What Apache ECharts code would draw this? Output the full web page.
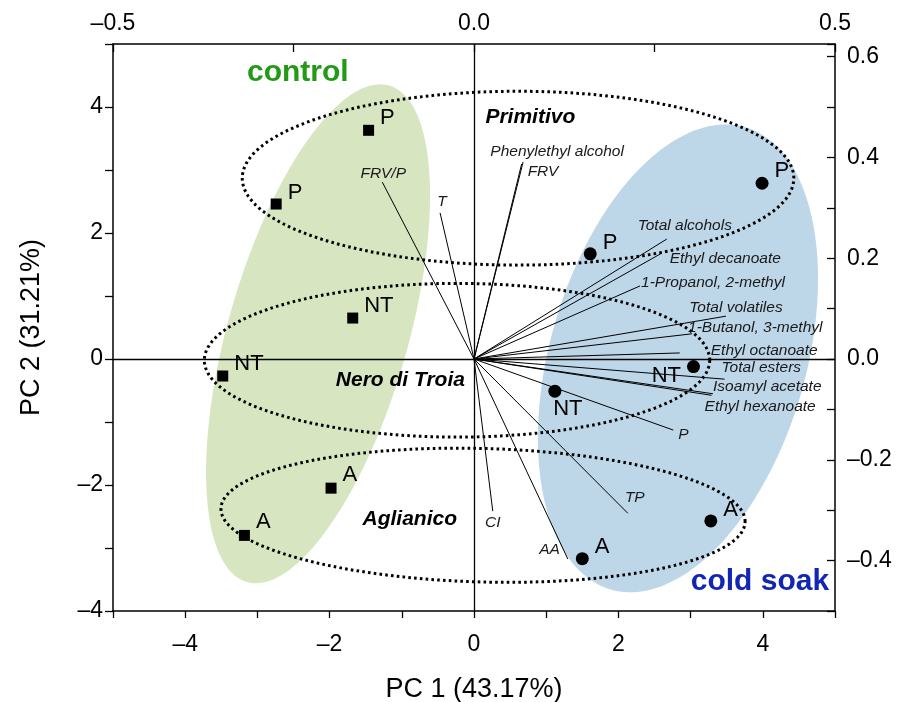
<!DOCTYPE html>
<html><head><meta charset="utf-8">
<script src="https://cdn.jsdelivr.net/npm/echarts@6/dist/echarts.min.js"></script>
<style>html,body{margin:0;padding:0;background:#fff}#c{width:898px;height:702px}</style>
</head><body><div id="c"></div>
<script>
const FONT = "'Liberation Sans', Arial, sans-serif";

// ---- Scores (PC1, PC2) : bottom / left axes ----
const scoreLabels = ['P', 'P', 'NT', 'NT', 'A', 'A'];
const controlPC1 = [-1.46, -2.74, -1.68, -3.48, -1.98, -3.18];
const controlPC2 = [3.63, 2.46, 0.65, -0.27, -2.05, -2.80];
const coldPC1 = [3.99, 1.61, 3.04, 1.12, 3.28, 1.50];
const coldPC2 = [2.79, 1.67, -0.12, -0.51, -2.57, -3.17];

// ---- Loadings : top / right axes ----
const loadingNames = ['FRV/P', 'T', 'Phenylethyl alcohol', 'FRV', 'Total alcohols', 'Ethyl decanoate',
  '1-Propanol, 2-methyl', 'Total volatiles', '1-Butanol, 3-methyl', 'Ethyl octanoate', 'Total esters',
  'Isoamyl acetate', 'Ethyl hexanoate', 'P', 'TP', 'CI', 'AA'];
const loadingPC1 = [-0.127, -0.047, 0.068, 0.066, 0.267, 0.260, 0.230, 0.349, 0.302, 0.285, 0.347, 0.331, 0.329, 0.276, 0.213, 0.026, 0.130];
const loadingPC2 = [0.351, 0.290, 0.391, 0.387, 0.238, 0.210, 0.145, 0.085, 0.050, 0.012, -0.040, -0.069, -0.072, -0.141, -0.306, -0.302, -0.397];

// ---- Confidence ellipses (PC units): centre + conjugate semi-axes ----
const groupNames = ['control', 'cold soak'];
const groupCenter = [[-2.16, 0.40], [2.825, 0.01]];
const groupAxisU = [[0.985, 3.94], [0.931, 3.67]];
const groupAxisV = [[1.198, -0.394], [1.702, -0.567]];
const cultivarNames = ['Primitivo', 'Nero di Troia', 'Aglianico'];
const cultivarCenter = [[0.61, 2.87], [-0.235, -0.02], [0.125, -2.48]];
const cultivarAxisU = [[3.82, 0], [3.50, 0], [3.63, -0.10]];
const cultivarAxisV = [[0, 1.38], [0, 1.22], [0, 1.06]];

// ---- Annotation anchors (PC units) ----
const groupLabelAt = [[-2.44, 4.54], [3.96, -3.54]];
const cultivarLabelAt = [[0.78, 3.84], [-1.02, -0.33], [-0.89, -2.54]];

// ---- Styles ----
const groupFill = ['#d7e5c0', '#bdd7e9'];
const groupTextColor = ['#229a16', '#1226b4'];
const loadingLabelPlace = [
  ['center', 1, -8], ['center', 2, -11], ['center', 34, -10], ['left', 6, 8], ['center', 18, -13],
  ['left', 8, 6], ['left', 1, -3], ['center', 10, -8], ['left', -4, -6], ['left', 31, -2],
  ['left', -3, -11], ['left', 0, -7], ['left', -7, 11], ['left', 5, 5], ['center', 7, -16],
  ['center', 0, 11], ['right', -8, -9]];
const controlLabelPlace = [['right', 0, -12], ['right', 0, -11], ['right', 0, -12], ['right', 0, -12], ['right', 0, -13], ['right', 0, -13]];
const coldLabelPlace = [['right', 0, -12], ['right', 0, -11], ['left', 0, 9], ['bottom', 13, 0], ['right', 0, -11], ['right', 0, -12]];

const dash = '\u2013';
function fmt(v, d) { const s = Math.abs(v).toFixed(d); return v < -1e-9 ? dash + s : s; }

function ellipsePts(api, c, u, v) {
  const pts = [];
  for (let k = 0; k <= 180; k++) {
    const t = 2 * Math.PI * k / 180;
    pts.push(api.coord([c[0] + Math.cos(t) * u[0] + Math.sin(t) * v[0],
                        c[1] + Math.cos(t) * u[1] + Math.sin(t) * v[1]]));
  }
  return pts;
}

function scoreData(xs, ys, place) {
  return xs.map((x, i) => ({
    value: [x, ys[i]], name: scoreLabels[i],
    label: { position: place[i][0], offset: [place[i][1], place[i][2]], distance: place[i][0] === 'bottom' ? 0 : 6 }
  }));
}

const axisLineStyle = { color: '#000', width: 1.5 };
const tickStyle = { color: '#000', width: 1.3 };
const labelBase = { color: '#000', fontSize: 23, fontFamily: FONT };
const scoreLabel = { show: true, formatter: p => p.name, color: '#000', opacity: 1, fontSize: 22, fontFamily: FONT };

const option = {
  animation: false,
  backgroundColor: '#fff',
  grid: { left: 113, right: 63, top: 44, bottom: 91, containLabel: false, outerBoundsMode: 'none' },
  xAxis: [
    { type: 'value', position: 'bottom', min: -5, max: 5, interval: 1,
      axisLine: { onZero: false, lineStyle: axisLineStyle },
      axisTick: { length: 7, lineStyle: tickStyle },
      axisLabel: Object.assign({ margin: 22, formatter: v => (Math.round(v) % 2 === 0 && Math.abs(v) < 5 ? fmt(v, 0) : '') }, labelBase),
      splitLine: { show: false },
      name: 'PC 1 (43.17%)', nameLocation: 'middle', nameGap: 65,
      nameTextStyle: { fontSize: 27, color: '#000', fontFamily: FONT } },
    { type: 'value', position: 'top', min: -0.5, max: 0.5, interval: 0.25,
      axisLine: { onZero: false, lineStyle: axisLineStyle },
      axisTick: { inside: true, length: 8, lineStyle: tickStyle },
      axisLabel: Object.assign({ margin: 9, showMinLabel: true, showMaxLabel: true,
        formatter: v => (Math.abs(v * 2 - Math.round(v * 2)) < 1e-6 ? fmt(v, 1) : '') }, labelBase),
      splitLine: { show: false } }
  ],
  yAxis: [
    { type: 'value', position: 'left', min: -4, max: 5, interval: 1,
      axisLine: { onZero: false, lineStyle: axisLineStyle },
      axisTick: { length: 8, lineStyle: tickStyle },
      axisLabel: Object.assign({ margin: 10, formatter: v => (Math.round(v) % 2 === 0 && v < 5 ? fmt(v, 0) : '') }, labelBase),
      splitLine: { show: false },
      name: 'PC 2 (31.21%)', nameLocation: 'middle', nameGap: 68, nameRotate: 90,
      nameTextStyle: { fontSize: 27, color: '#000', fontFamily: FONT } },
    { type: 'value', position: 'right', min: -0.5, max: 0.625, interval: 0.1,
      axisLine: { onZero: false, lineStyle: axisLineStyle },
      axisTick: { inside: true, length: 8, lineStyle: tickStyle },
      axisLabel: Object.assign({ margin: 12, formatter: v => {
        const r = Math.round(v * 10);
        return (Math.abs(v * 10 - r) < 1e-6 && r % 2 === 0 && r >= -4 && r <= 6) ? fmt(v, 1) : '';
      } }, labelBase),
      splitLine: { show: false } }
  ],
  series: [
    { type: 'custom', name: 'groups', z: 1, silent: true,
      data: groupCenter.map(c => c.slice()),
      encode: { x: 0, y: 1 },
      renderItem: (params, api) => {
        const i = params.dataIndex;
        return { type: 'polygon', shape: { points: ellipsePts(api, groupCenter[i], groupAxisU[i], groupAxisV[i]) },
          style: { fill: groupFill[i], stroke: 'none' } };
      } },
    { type: 'custom', name: 'cultivars', z: 3, silent: true,
      data: cultivarCenter.map(c => c.slice()),
      encode: { x: 0, y: 1 },
      renderItem: (params, api) => {
        const i = params.dataIndex;
        return { type: 'polygon', shape: { points: ellipsePts(api, cultivarCenter[i], cultivarAxisU[i], cultivarAxisV[i]) },
          style: { fill: 'none', stroke: '#000', lineWidth: 3, lineDash: [2.6, 3.2] } };
      },
      markLine: { silent: true, symbol: ['none', 'none'], label: { show: false },
        lineStyle: { color: '#000', width: 1.3, type: 'solid' }, emphasis: { disabled: true },
        data: [{ xAxis: 0 }, { yAxis: 0 }] } },
    { type: 'custom', name: 'loadings', z: 4, silent: true, xAxisIndex: 1, yAxisIndex: 1,
      data: loadingPC1.map((x, i) => [x, loadingPC2[i]]),
      encode: { x: 0, y: 1 },
      renderItem: (params, api) => {
        const i = params.dataIndex;
        const o = api.coord([0, 0]);
        const e = api.coord([api.value(0), api.value(1)]);
        const pl = loadingLabelPlace[i];
        return { type: 'group', children: [
          { type: 'line', shape: { x1: o[0], y1: o[1], x2: e[0], y2: e[1] }, style: { stroke: '#000', lineWidth: 1 } },
          { type: 'text', x: e[0] + pl[1], y: e[1] + pl[2],
            style: { text: loadingNames[i], font: 'italic 15.5px ' + FONT, fill: '#1a1a1a', align: pl[0], verticalAlign: 'middle' } }
        ] };
      } },
    { type: 'scatter', name: 'control', z: 5, symbol: 'rect', symbolSize: 11,
      itemStyle: { color: '#000', opacity: 1 },
      label: scoreLabel,
      data: scoreData(controlPC1, controlPC2, controlLabelPlace) },
    { type: 'scatter', name: 'cold soak', z: 5, symbol: 'circle', symbolSize: 13,
      itemStyle: { color: '#000', opacity: 1 },
      label: scoreLabel,
      data: scoreData(coldPC1, coldPC2, coldLabelPlace) },
    { type: 'custom', name: 'annotations', z: 6, silent: true,
      data: groupLabelAt.concat(cultivarLabelAt).map(c => c.slice()),
      encode: { x: 0, y: 1 },
      renderItem: (params, api) => {
        const i = params.dataIndex;
        const p = api.coord([api.value(0), api.value(1)]);
        const isGroup = i < groupNames.length;
        const text = isGroup ? groupNames[i] : cultivarNames[i - groupNames.length];
        return { type: 'text', x: p[0], y: p[1],
          style: { text: text, align: 'center', verticalAlign: 'middle',
            font: isGroup ? 'bold 30px ' + FONT : 'italic bold 21px ' + FONT,
            fill: isGroup ? groupTextColor[i] : '#000' } };
      } }
  ]
};

const chart = echarts.init(document.getElementById('c'));
chart.setOption(option);
</script>
</body></html>
